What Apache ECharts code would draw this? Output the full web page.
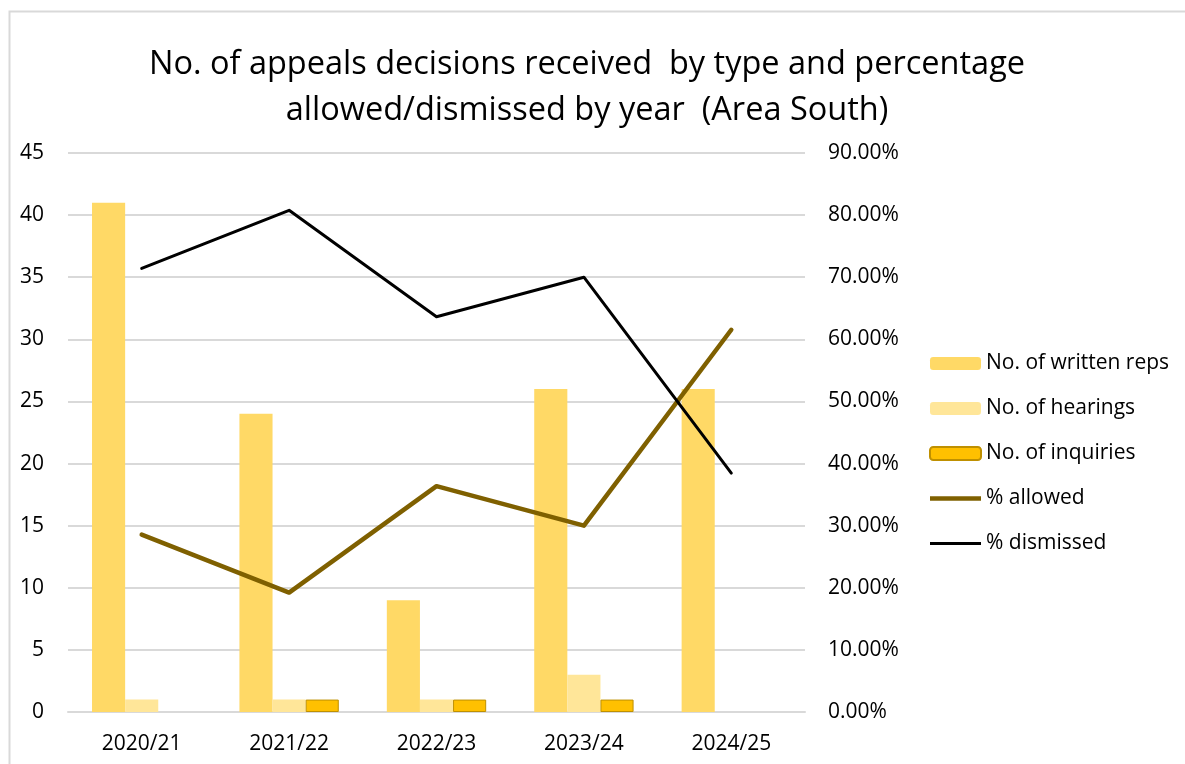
<!DOCTYPE html>
<html>
<head>
<meta charset="utf-8">
<script src="https://cdn.jsdelivr.net/npm/echarts@6/dist/echarts.min.js"></script>
<style>
html,body{margin:0;padding:0;background:#fff;}
#chart{width:1185px;height:764px;}
</style>
</head>
<body>
<div id="chart"></div>
<script>
const categories = ['2020/21', '2021/22', '2022/23', '2023/24', '2024/25'];
const writtenReps = [41, 24, 9, 26, 26];
const hearings = [1, 1, 1, 3, 0];
const inquiries = [0, 1, 1, 1, 0];
const pctAllowed = [28.57, 19.23, 36.36, 30.00, 61.54];
const pctDismissed = [71.43, 80.77, 63.64, 70.00, 38.46];
const seriesNames = ['No. of written reps', 'No. of hearings', 'No. of inquiries', '% allowed', '% dismissed'];
const titleText = 'No. of appeals decisions received  by type and percentage\nallowed/dismissed by year  (Area South)';

const FONT = '"Open Sans", "Liberation Sans", sans-serif';
// zero-height bars get no outline
const barItems = (arr) => arr.map(v => v === 0 ? {value: v, itemStyle: {borderWidth: 0}} : v);

const chart = echarts.init(document.getElementById('chart'), null, {renderer: 'canvas'});
chart.setOption({
  backgroundColor: '#ffffff',
  animation: false,
  graphic: [{
    type: 'rect', left: 7, top: 9, silent: true,
    shape: {x: 7.5, y: 9.5, width: 1300, height: 1000},
    style: {fill: 'none', stroke: '#d9d9d9', lineWidth: 2}
  }],
  title: {
    text: titleText,
    left: 582, top: 37, textAlign: 'center',
    textStyle: {fontFamily: FONT, fontSize: 32.5, fontWeight: 'normal', color: '#000', lineHeight: 46}
  },
  legend: {
    orient: 'vertical', left: 924, top: 348,
    itemWidth: 51, itemHeight: 13, itemGap: 24,
    textStyle: {fontFamily: FONT, fontSize: 21, color: '#000'},
    data: [
      {name: seriesNames[0]},
      {name: seriesNames[1]},
      {name: seriesNames[2]},
      {name: seriesNames[3], icon: 'path://M0,0 L102,0 L102,9 L0,9 Z'},
      {name: seriesNames[4], icon: 'path://M0,0 L102,0 L102,6 L0,6 Z'}
    ]
  },
  grid: {left: 68, right: 380, top: 153, bottom: 52},
  xAxis: {
    type: 'category', data: categories,
    axisTick: {show: false},
    axisLine: {lineStyle: {color: '#d9d9d9', width: 2}},
    axisLabel: {fontFamily: FONT, fontSize: 21, color: '#000', margin: 22}
  },
  yAxis: [{
    type: 'value', min: 0, max: 45, interval: 5,
    axisLine: {show: false}, axisTick: {show: false},
    splitLine: {lineStyle: {color: '#d9d9d9', width: 2}},
    axisLabel: {fontFamily: FONT, fontSize: 21, color: '#000', margin: 24}
  }, {
    type: 'value', min: 0, max: 90, interval: 10,
    axisLine: {show: false}, axisTick: {show: false},
    splitLine: {show: false},
    axisLabel: {fontFamily: FONT, fontSize: 21, color: '#000', margin: 23,
      formatter: v => v.toFixed(2) + '%'}
  }],
  series: [{
    name: seriesNames[0], type: 'bar', data: writtenReps,
    barGap: '0%', barCategoryGap: '32.6%',
    itemStyle: {color: '#FFD966'}
  }, {
    name: seriesNames[1], type: 'bar', data: hearings,
    itemStyle: {color: '#FFE699'}
  }, {
    name: seriesNames[2], type: 'bar', data: barItems(inquiries),
    itemStyle: {color: '#FFC000', borderColor: '#BF9000', borderWidth: 1}
  }, {
    name: seriesNames[3], type: 'line', yAxisIndex: 1, data: pctAllowed,
    symbol: 'none', lineStyle: {color: '#7F6000', width: 4.5, cap: 'round', join: 'round'}, itemStyle: {color: '#7F6000'}
  }, {
    name: seriesNames[4], type: 'line', yAxisIndex: 1, data: pctDismissed,
    symbol: 'none', lineStyle: {color: '#000000', width: 3, cap: 'round', join: 'round'}, itemStyle: {color: '#000000'}
  }]
});
</script>
</body>
</html>
